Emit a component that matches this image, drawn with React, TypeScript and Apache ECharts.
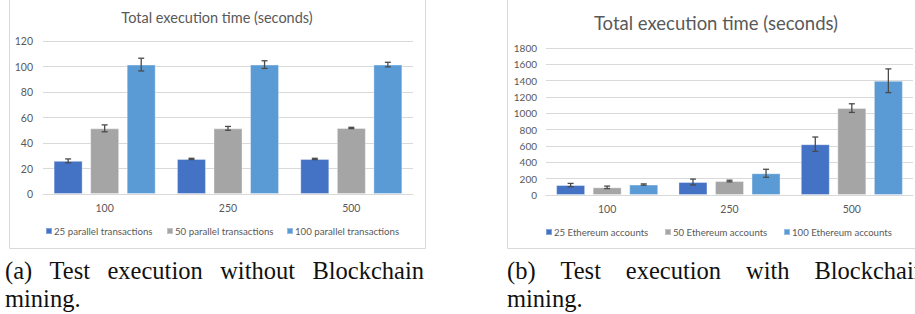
import React, { useEffect, useRef } from "react";
import * as echarts from "echarts";

const categories = ["100", "250", "500"];
const chartTitle = "Total execution time (seconds)";

const leftNames = ["25 parallel transactions", "50 parallel transactions", "100 parallel transactions"];
const left25 = [26, 27.5, 27.5];
const left25Err = [1.5, 0.5, 0.5];
const left50 = [51.5, 51.5, 51.8];
const left50Err = [2.7, 1.5, 0.5];
const left100 = [101.5, 101.5, 101.5];
const left100Err = [5, 3, 1.8];

const rightNames = ["25 Ethereum accounts", "50 Ethereum accounts", "100 Ethereum accounts"];
const right25 = [122, 159, 622];
const right25Err = [20, 36, 88];
const right50 = [94, 171, 1064];
const right50Err = [15, 10, 53];
const right100 = [128, 266, 1399];
const right100Err = [8, 49, 145];

const captionA1 = ["(a)", "Test", "execution", "without", "Blockchain"];
const captionB1 = ["(b)", "Test", "execution", "with", "Blockchain"];
const captionLine2 = "mining.";

const COLORS = ["#4472C4", "#A5A5A5", "#5B9BD5"];
const TXT = "#595959";
const GRIDC = "#D9D9D9";
const FONT = "Lato, 'Noto Sans', sans-serif";
const CAP_FONT = "'Liberation Serif', serif";
const CAP_SIZE = 24.5;
const BAR_W = 29;
const BAR_GAP = 0.26;

export default function App() {
  const ref = useRef<HTMLDivElement>(null);
  useEffect(() => {
    if (!ref.current) return;
    const chart = echarts.init(ref.current, undefined, { renderer: "svg" });
    const step = BAR_W * (1 + BAR_GAP);

    const ctx = document.createElement("canvas").getContext("2d") as CanvasRenderingContext2D;
    ctx.font = `${CAP_SIZE}px ${CAP_FONT}`;
    const justify = (words: string[], x0: number, x1: number) => {
      const ws = words.map((w) => ctx.measureText(w).width);
      const total = ws.reduce((a, b) => a + b, 0);
      const gap = (x1 - x0 - total) / (words.length - 1);
      const xs: number[] = [];
      let x = x0;
      ws.forEach((w) => {
        xs.push(x);
        x += w + gap;
      });
      return xs;
    };

    const barSeries = (name: string, data: number[], idx: number, axis: number) => ({
      type: "bar",
      name,
      data,
      xAxisIndex: axis,
      yAxisIndex: axis,
      barWidth: BAR_W,
      barGap: BAR_GAP * 100 + "%",
      itemStyle: { color: COLORS[idx], borderColor: "rgba(255,255,255,0.35)", borderWidth: 1 },
      z: 2,
    });
    const errSeries = (vals: number[], errs: number[], idx: number, axis: number) => ({
      type: "custom",
      xAxisIndex: axis,
      yAxisIndex: axis,
      z: 5,
      silent: true,
      data: vals.map((v, i) => [i, v, errs[i]]),
      renderItem: (params: any, api: any) => {
        const i = api.value(0);
        const v = api.value(1);
        const e = api.value(2);
        const top = api.coord([i, v + e]);
        const bot = api.coord([i, v - e]);
        const cx = top[0] + (idx - 1) * step;
        const st = { stroke: "#4A4A4A", lineWidth: 1.3 };
        return {
          type: "group",
          children: [
            { type: "line", shape: { x1: cx, y1: top[1], x2: cx, y2: bot[1] }, style: st },
            { type: "line", shape: { x1: cx - 3, y1: top[1], x2: cx + 3, y2: top[1] }, style: st },
            { type: "line", shape: { x1: cx - 3, y1: bot[1], x2: cx + 3, y2: bot[1] }, style: st },
          ],
        };
      },
    });

    const legendItem = (name: string, left: number, top: number, fs: number) => ({
      data: [name],
      left,
      top,
      padding: 0,
      icon: "rect",
      itemWidth: 6,
      itemHeight: 6,
      textStyle: { color: TXT, fontSize: fs, fontFamily: FONT, padding: [0, 0, 0, -3] },
      selectedMode: false,
    });

    const wordsA = justify(captionA1, 5, 424);
    const wordsB = justify(captionB1, 507, 926);
    const capStyle = { fill: "#111", fontSize: CAP_SIZE, fontFamily: CAP_FONT };
    const caption: any[] = [];
    captionA1.forEach((w, i) =>
      caption.push({ type: "text", x: wordsA[i], y: 270, style: { ...capStyle, text: w, verticalAlign: "middle" } })
    );
    captionB1.forEach((w, i) =>
      caption.push({ type: "text", x: wordsB[i], y: 270, style: { ...capStyle, text: w, verticalAlign: "middle" } })
    );
    caption.push({ type: "text", x: 5, y: 298, style: { ...capStyle, text: captionLine2, verticalAlign: "middle" } });
    caption.push({ type: "text", x: 507, y: 298, style: { ...capStyle, text: captionLine2, verticalAlign: "middle" } });

    const axisCommon = {
      axisLine: { show: true, lineStyle: { color: GRIDC } },
      axisTick: { show: false },
      axisLabel: { color: TXT, fontSize: 10.5, fontFamily: FONT, margin: 8 },
    };
    const yCommon = {
      type: "value",
      min: 0,
      axisLine: { show: false },
      axisTick: { show: false },
      splitLine: { lineStyle: { color: GRIDC, width: 1 } },
    };

    chart.setOption({
      animation: false,
      backgroundColor: "#fff",
      title: [
        {
          text: chartTitle,
          left: 217,
          top: 10,
          textAlign: "center",
          padding: 0,
          textStyle: { color: TXT, fontSize: 14.5, fontWeight: "normal", fontFamily: FONT },
        },
        {
          text: chartTitle,
          left: 716,
          top: 13,
          textAlign: "center",
          padding: 0,
          textStyle: { color: TXT, fontSize: 18.5, fontWeight: "normal", fontFamily: FONT },
        },
      ],
      legend: [
        legendItem(leftNames[0], 45, 226, 9.7),
        legendItem(leftNames[1], 166, 226, 9.7),
        legendItem(leftNames[2], 286, 226, 9.7),
        legendItem(rightNames[0], 545, 227, 9.6),
        legendItem(rightNames[1], 664, 227, 9.6),
        legendItem(rightNames[2], 783, 227, 9.6),
      ],
      grid: [
        { left: 43, right: 915 - 413, top: 41, bottom: 314 - 194 },
        { left: 546, right: 2, top: 48, bottom: 314 - 195 },
      ],
      xAxis: [
        { type: "category", data: categories, gridIndex: 0, ...axisCommon },
        { type: "category", data: categories, gridIndex: 1, ...axisCommon },
      ],
      yAxis: [
        {
          ...yCommon,
          gridIndex: 0,
          max: 120,
          interval: 20,
          axisLabel: { color: TXT, fontSize: 10.5, fontFamily: FONT, margin: 10 },
        },
        {
          ...yCommon,
          gridIndex: 1,
          max: 1800,
          interval: 200,
          axisLabel: { color: TXT, fontSize: 10, fontFamily: FONT, margin: 9, formatter: (v: number) => String(v) },
        },
      ],
      graphic: [
        { type: "rect", shape: { x: 9.5, y: -5, width: 416, height: 253.5 }, style: { fill: "none", stroke: GRIDC, lineWidth: 1 }, z: -1 },
        { type: "rect", shape: { x: 507.5, y: -5, width: 420, height: 253.5 }, style: { fill: "none", stroke: GRIDC, lineWidth: 1 }, z: -1 },
        ...caption,
      ],
      series: [
        barSeries(leftNames[0], left25, 0, 0),
        barSeries(leftNames[1], left50, 1, 0),
        barSeries(leftNames[2], left100, 2, 0),
        barSeries(rightNames[0], right25, 0, 1),
        barSeries(rightNames[1], right50, 1, 1),
        barSeries(rightNames[2], right100, 2, 1),
        errSeries(left25, left25Err, 0, 0),
        errSeries(left50, left50Err, 1, 0),
        errSeries(left100, left100Err, 2, 0),
        errSeries(right25, right25Err, 0, 1),
        errSeries(right50, right50Err, 1, 1),
        errSeries(right100, right100Err, 2, 1),
      ],
    });
    return () => chart.dispose();
  }, []);
  return (
    <div
      ref={ref}
      style={{ position: "absolute", left: 0, top: 0, width: 915, height: 314, background: "#fff" }}
    />
  );
}
